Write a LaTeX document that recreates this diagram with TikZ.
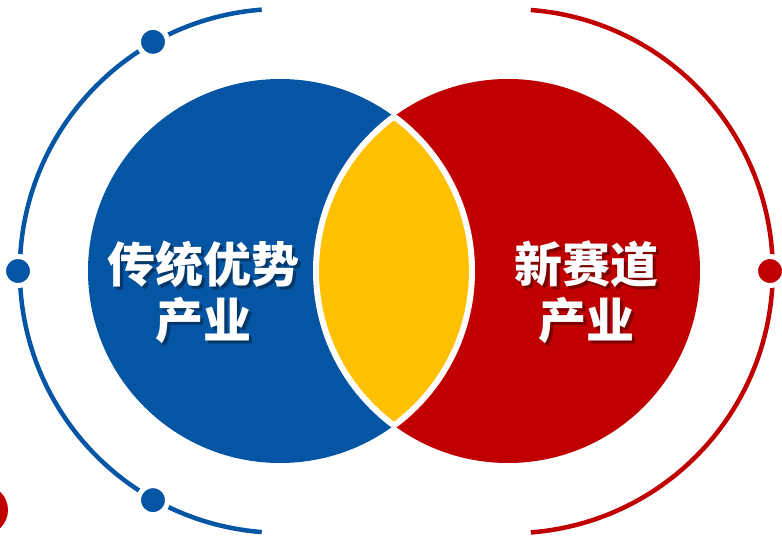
\documentclass[tikz,border=0pt]{standalone}
\usepackage{fontspec}
\newfontfamily\cjk{Noto Sans CJK SC}
\usetikzlibrary{positioning}

\definecolor{vblue}{HTML}{0455A4}
\definecolor{vred}{HTML}{C00000}
\definecolor{vyellow}{HTML}{FFC000}

\begin{document}
\begin{tikzpicture}[x=1pt,y=1pt]
  \tikzstyle{disc}=[circle, inner sep=0pt, outer sep=0pt, minimum size=384pt]
  \tikzstyle{ring}=[circle, inner sep=0pt, outer sep=0pt, minimum size=524pt]
  \tikzstyle{dot}=[circle, inner sep=0pt, minimum size=29pt, draw=white, line width=5pt]
  \tikzstyle{title}=[text=white, font=\cjk\bfseries\fontsize{48}{56}\selectfont, align=center]
  \tikzstyle{shadow}=[title, text=black, text opacity=0.35]

  \clip (0,0) rectangle (782,536);

  % the two sets
  \node[disc, fill=vblue] (trad set) at (280,265) {};
  \node[disc, fill=vred]  (new set)  at (508,265) {};

  % overlap
  \begin{scope}
    \clip (trad set.center) circle (192);
    \fill[vyellow] (new set.center) circle (192);
    \draw[white, line width=6pt] (new set.center) circle (192);
  \end{scope}
  \begin{scope}
    \clip (new set.center) circle (192);
    \draw[white, line width=6pt] (trad set.center) circle (192);
  \end{scope}

  % outer rings
  \node[ring] (trad ring) at (trad set.center) {};
  \node[ring] (new ring)  at (new set.center) {};
  \draw[vblue, line width=4.5pt] (trad ring.94.4) arc[start angle=94.4, end angle=265.6, radius=262];
  \draw[vred, line width=4.5pt]  (new ring.85.6) arc[start angle=85.6, end angle=-85.6, radius=262];

  \node[dot, fill=vblue] (trad top)    at (trad ring.119) {};
  \node[dot, fill=vblue] (trad left)   at (trad ring.180) {};
  \node[dot, fill=vblue] (trad bottom) at (trad ring.241) {};
  \node[dot, fill=vred]  (new right)   at (new ring.0) {};
  \node[circle, fill=vred, inner sep=0pt, minimum size=50pt] (corner) at (-17,26) {};

  % labels
  \node[shadow] (trad shadow) at (206,241) {传统优势\\产业};
  \node[title]  (trad) at ([shift={(-2.5,2.5)}]trad shadow) {传统优势\\产业};
  \node[shadow] (new shadow) at (589,241) {新赛道\\产业};
  \node[title]  (new) at ([shift={(-2.5,2.5)}]new shadow) {新赛道\\产业};
\end{tikzpicture}
\end{document}
